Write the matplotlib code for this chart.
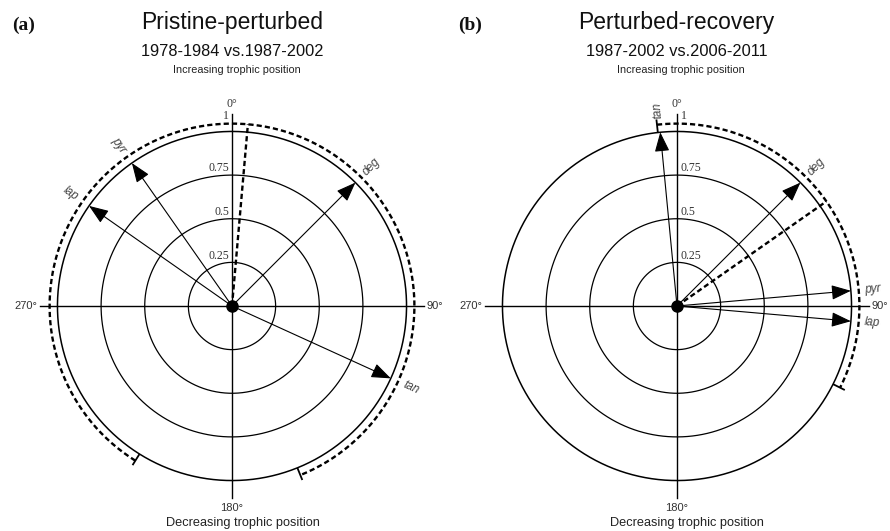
import numpy as np
import matplotlib
matplotlib.use("Agg")
import matplotlib.pyplot as plt

# ---------------- data ----------------
panel_tags = ["(a)", "(b)"]
titles = ["Pristine-perturbed", "Perturbed-recovery"]
subtitles = ["1978-1984 vs.1987-2002", "1987-2002 vs.2006-2011"]
top_label = "Increasing trophic position"
bottom_label = "Decreasing trophic position"

species_a = ["pyr", "lap", "deg", "tan"]
angles_a = [325.0, 305.0, 45.0, 114.5]          # degrees, clockwise from north
lengths_a = [1.0, 1.0, 1.0, 1.0]
mean_a = 5.0
ci_a = [212.0, 158.0]                           # clockwise arc from first to second

species_b = ["tan", "deg", "pyr", "lap"]
angles_b = [354.5, 45.0, 85.0, 95.0]
lengths_b = [1.0, 1.0, 1.0, 1.0]
mean_b = 55.0
ci_b = [353.7, 116.6]

ring_values = [0.25, 0.5, 0.75, 1.0]
ring_labels = ["0.25", "0.5", "0.75", "1"]
compass_angles = [0, 90, 180, 270]
compass_labels = ["0°", "90°", "180°", "270°"]

# ---------------- figure ----------------
W, H = 890, 531
fig = plt.figure(figsize=(W / 100, H / 100), dpi=100)
SANS = ["Liberation Sans", "DejaVu Sans"]
SERIF = ["Liberation Serif", "DejaVu Serif"]
RMAX = 1.1
HALF = 192  # px for RMAX
CY = 306


def label_rotation(theta_deg):
    rot = 90.0 - theta_deg
    rot = (rot + 180.0) % 360.0 - 180.0
    if rot > 100 or rot < -100:
        rot = rot + 180.0 if rot < 0 else rot - 180.0
    return rot


def draw_panel(cx, species, angles, lengths, mean, ci, ring_side):
    ax = fig.add_axes([(cx - HALF) / W, (H - CY - HALF) / H, 2 * HALF / W, 2 * HALF / H],
                      projection="polar")
    ax.set_theta_zero_location("N")
    ax.set_theta_direction(-1)
    ax.set_ylim(0, RMAX)
    ax.axis("off")

    th = np.linspace(0, 2 * np.pi, 500)
    for r in ring_values:
        lw = 1.1 if r == 1.0 else 0.9
        ax.plot(th, np.full_like(th, r), color="black", lw=lw, solid_capstyle="butt")
    for a in compass_angles:
        t = np.deg2rad(a)
        ax.plot([t, t], [0, RMAX], color="black", lw=1.0, clip_on=False)

    # ring labels
    for r, lab in zip(ring_values, ring_labels):
        rr = r if r < 1 else 1.048
        if ring_side == "left":
            ax.annotate(lab, xy=(0, rr), xytext=(-2, 0.5), textcoords="offset points",
                        ha="right", va="bottom", fontsize=8.5, family=SERIF, color="#333333")
        else:
            ax.annotate(lab, xy=(0, rr), xytext=(2.5, 0.5), textcoords="offset points",
                        ha="left", va="bottom", fontsize=8.5, family=SERIF, color="#333333")

    # compass labels
    ax.text(np.deg2rad(0), 1.16, compass_labels[0], ha="center", va="center",
            fontsize=8.5, family=SERIF, color="#333333")
    ax.text(np.deg2rad(90), 1.115, compass_labels[1], ha="left", va="center",
            fontsize=8, family=SANS, color="#333333")
    ax.text(np.deg2rad(180), 1.16, compass_labels[2], ha="center", va="center",
            fontsize=8, family=SANS, color="#333333")
    ax.text(np.deg2rad(270), 1.115, compass_labels[3], ha="right", va="center",
            fontsize=8, family=SANS, color="#333333")

    # species arrows
    for name, ang, ln in zip(species, angles, lengths):
        t = np.deg2rad(ang)
        ax.annotate("", xy=(t, ln), xytext=(t, 0),
                    arrowprops=dict(arrowstyle="-|>,head_length=1.0,head_width=0.38",
                                    mutation_scale=12, lw=0.8, color="black",
                                    shrinkA=0, shrinkB=0))
        ax.text(t, 1.125, name, rotation=label_rotation(ang), ha="center", va="center",
                fontsize=8.5, style="italic", family=SANS, color="#444444")

    # mean direction and confidence arc
    dash = (0, (2.2, 1.3))
    tm = np.deg2rad(mean)
    ax.plot([tm, tm], [0, 1.045], color="black", lw=1.7, ls=dash)
    lo, hi = ci
    if hi < lo:
        hi += 360.0
    arc = np.deg2rad(np.linspace(lo, hi, 400))
    ax.plot(arc, np.full_like(arc, 1.045), color="black", lw=1.7, ls=dash)
    for e in ci:
        te = np.deg2rad(e)
        ax.plot([te, te], [1.005, 1.07], color="black", lw=1.3)

    ax.plot([0], [0], "o", ms=8, color="black", zorder=5)
    return ax


draw_panel(232, species_a, angles_a, lengths_a, mean_a, ci_a, "left")
draw_panel(677, species_b, angles_b, lengths_b, mean_b, ci_b, "right")

# ---------------- header / footer text ----------------
for cx, tag_x, tag, title, sub in [(232.5, 12, panel_tags[0], titles[0], subtitles[0]),
                                   (676.5, 458, panel_tags[1], titles[1], subtitles[1])]:
    fig.text(tag_x / W, 1 - 25 / H, tag, ha="left", va="center", fontsize=14,
             weight="bold", family=SERIF, color="#111111")
    fig.text(cx / W, 1 - 23 / H, title, ha="center", va="center", fontsize=16.5,
             family=SANS, color="#111111")
    fig.text(cx / W, 1 - 51 / H, sub, ha="center", va="center", fontsize=11.8,
             family=SANS, color="#111111")
    fig.text((cx + 4) / W, 1 - 70 / H, top_label, ha="center", va="center", fontsize=7.8,
             family=SANS, color="#222222")
    fig.text((cx + 10) / W, 1 - 523 / H, bottom_label, ha="center", va="center", fontsize=9.2,
             family=SANS, color="#222222")

fig.savefig("out.png", dpi=100)
